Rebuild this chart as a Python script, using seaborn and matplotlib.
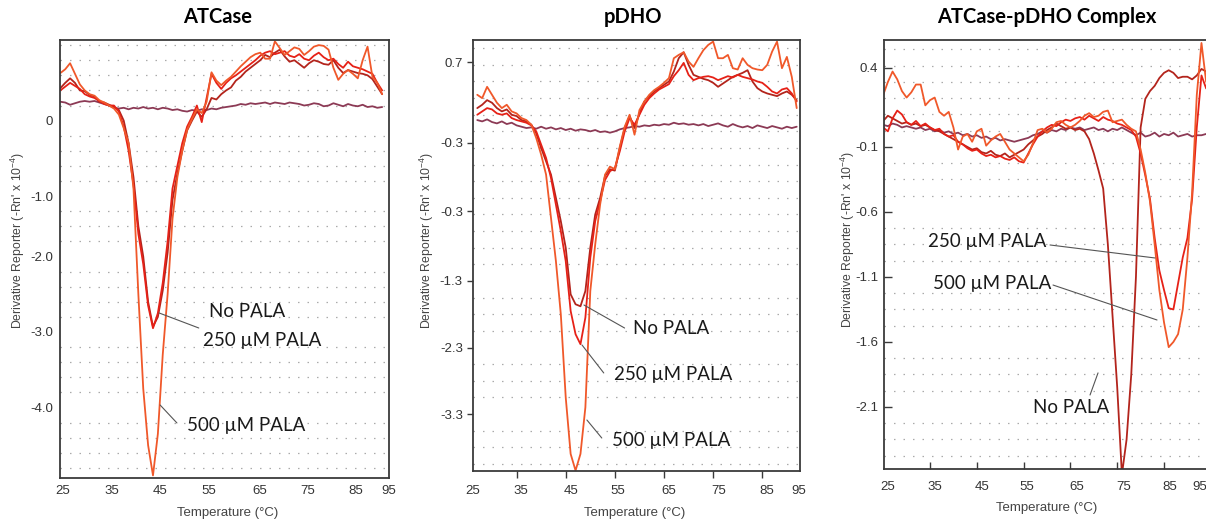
import numpy as np
import pandas as pd
import matplotlib
matplotlib.use("Agg")
import matplotlib.pyplot as plt
from matplotlib.ticker import FixedLocator
import seaborn as sns

# ---------------- data ----------------
series_names = ["Blank", "No PALA", "250 µM PALA", "500 µM PALA"]
line_colors = ["#8c3a55", "#b3241c", "#e62117", "#f0582a"]

# ATCase panel
atc_temp = np.arange(24.5, 91.0, 1.0)
atc_blank = [0.05, 0.04, 0.01, 0.03, 0.05, 0.06, 0.05, 0.06, 0.04, 0.02,
             0.0, -0.03, -0.04, -0.03, -0.05, -0.03, -0.04, -0.02, -0.04, -0.03,
             -0.05, -0.03, -0.04, -0.06, -0.05, -0.07, -0.08, -0.06, -0.07, -0.05,
             -0.06, -0.04, -0.05, -0.03, -0.02, -0.01, 0.0, 0.02, 0.01, 0.03,
             0.02, 0.03, 0.04, 0.02, 0.04, 0.03, 0.02, 0.04, 0.03, 0.02,
             0.0, 0.01, 0.03, 0.02, -0.01, 0.0, 0.03, 0.01, -0.01, 0.02,
             0.0, -0.01, 0.01, -0.02, -0.01, -0.03, -0.02]
atc_nopala = [0.23, 0.30, 0.36, 0.30, 0.20, 0.19, 0.14, 0.12, 0.05, 0.04,
              0.01, -0.02, -0.06, -0.20, -0.50, -0.95, -1.60, -2.00, -2.60, -2.93,
              -2.80, -2.45, -1.95, -1.25, -0.90, -0.60, -0.33, -0.20, -0.08, -0.15,
              -0.05, 0.10, 0.08, 0.15, 0.20, 0.24, 0.33, 0.38, 0.45, 0.50,
              0.55, 0.60, 0.67, 0.64, 0.70, 0.74, 0.65, 0.58, 0.60, 0.55,
              0.50, 0.56, 0.60, 0.58, 0.55, 0.54, 0.60, 0.50, 0.43, 0.47,
              0.45, 0.43, 0.42, 0.40, 0.35, 0.25, 0.15]
atc_p250 = [0.20, 0.25, 0.30, 0.26, 0.22, 0.15, 0.12, 0.10, 0.06, 0.02,
            0.00, 0.00, -0.08, -0.28, -0.60, -1.05, -1.70, -2.10, -2.65, -2.95,
            -2.75, -2.35, -1.80, -1.10, -0.80, -0.50, -0.28, -0.15, 0.00, -0.22,
            0.10, 0.42, 0.30, 0.22, 0.30, 0.36, 0.40, 0.45, 0.50, 0.55,
            0.60, 0.66, 0.70, 0.72, 0.68, 0.70, 0.72, 0.66, 0.64, 0.68,
            0.62, 0.60, 0.66, 0.70, 0.64, 0.60, 0.62, 0.55, 0.50, 0.58,
            0.52, 0.50, 0.48, 0.45, 0.42, 0.30, 0.20]
atc_p500 = [0.43, 0.48, 0.56, 0.42, 0.28, 0.20, 0.15, 0.13, 0.07, 0.04,
            0.00, -0.04, -0.12, -0.30, -0.50, -1.10, -2.50, -3.75, -4.50, -4.90,
            -4.35, -3.30, -2.50, -1.50, -0.95, -0.60, -0.32, -0.18, -0.05, -0.10,
            0.05, 0.44, 0.33, 0.27, 0.33, 0.38, 0.45, 0.52, 0.58, 0.64,
            0.68, 0.70, 0.62, 0.62, 0.85, 0.76, 0.67, 0.72, 0.77, 0.75,
            0.67, 0.72, 0.78, 0.80, 0.79, 0.74, 0.50, 0.34, 0.42, 0.47,
            0.42, 0.36, 0.60, 0.78, 0.38, 0.30, 0.15]

# pDHO panel
dho_temp = np.arange(27.0, 93.0, 1.0)
dho_blank = [1.12, 1.10, 1.13, 1.09, 1.07, 1.10, 1.06, 1.08, 1.04, 1.02,
             1.00, 1.01, 0.99, 1.02, 0.99, 1.01, 0.98, 1.00, 0.97, 0.99,
             0.96, 0.98, 0.97, 0.95, 0.97, 0.94, 0.95, 0.93, 0.95, 0.98,
             1.00, 1.01, 1.03, 1.02, 1.04, 1.03, 1.05, 1.04, 1.06, 1.05,
             1.08, 1.06, 1.07, 1.05, 1.06, 1.04, 1.06, 1.03, 1.05, 1.07,
             1.04, 1.02, 1.06, 1.03, 1.01, 1.03, 1.00, 1.04, 1.02, 1.00,
             1.03, 1.01, 0.99, 1.02, 1.00, 1.02]
dho_nopala = [1.30, 1.35, 1.42, 1.38, 1.30, 1.25, 1.28, 1.20, 1.18, 1.12,
              1.10, 1.05, 0.92, 0.70, 0.50, 0.30, -0.05, -0.40, -0.80, -1.50,
              -1.65, -1.68, -1.45, -0.80, -0.30, -0.05, 0.28, 0.38, 0.36, 0.70,
              1.00, 1.18, 1.00, 1.22, 1.40, 1.48, 1.55, 1.60, 1.65, 1.70,
              1.85, 2.05, 2.14, 1.95, 1.80, 1.77, 1.74, 1.72, 1.68, 1.62,
              1.67, 1.72, 1.77, 1.80, 1.83, 1.87, 1.70, 1.60, 1.55, 1.52,
              1.50, 1.48, 1.52, 1.55, 1.50, 1.42]
dho_p250 = [1.20, 1.25, 1.30, 1.28, 1.22, 1.20, 1.22, 1.15, 1.12, 1.10,
            1.08, 1.04, 0.95, 0.75, 0.55, 0.25, -0.15, -0.55, -1.00, -1.75,
            -2.10, -2.25, -1.85, -0.95, -0.40, -0.10, 0.22, 0.35, 0.40, 0.65,
            0.95, 1.15, 1.05, 1.20, 1.35, 1.45, 1.52, 1.58, 1.62, 1.66,
            1.78, 1.87, 1.98, 1.80, 1.72, 1.75, 1.77, 1.78, 1.76, 1.72,
            1.75, 1.78, 1.76, 1.80, 1.77, 1.75, 1.73, 1.70, 1.68, 1.62,
            1.55, 1.52, 1.58, 1.60, 1.52, 1.40]
dho_p500 = [1.50, 1.45, 1.62, 1.50, 1.38, 1.30, 1.35, 1.25, 1.22, 1.15,
            1.12, 1.05, 0.85, 0.60, 0.30, -0.35, -1.00, -1.80, -3.05, -3.90,
            -4.15, -3.90, -3.20, -1.45, -0.75, -0.15, 0.30, 0.42, 0.38, 0.72,
            1.02, 1.20, 0.90, 1.27, 1.40, 1.50, 1.57, 1.62, 1.68, 1.75,
            2.05, 2.10, 2.14, 2.00, 1.92, 2.05, 2.17, 2.25, 2.30, 2.05,
            2.05, 2.10, 1.90, 1.88, 2.05, 1.95, 1.90, 1.88, 1.87, 1.95,
            2.15, 2.30, 1.90, 2.07, 1.77, 1.30]

# ATCase-pDHO complex panel
cpx_temp = np.arange(25.0, 95.0, 1.0)
cpx_blank = [0.07, 0.06, 0.08, 0.07, 0.05, 0.06, 0.05, 0.04, 0.05, 0.03,
             0.04, 0.02, 0.03, 0.01, 0.02, 0.00, 0.01, -0.01, 0.00, -0.02,
             -0.01, -0.03, -0.02, -0.04, -0.03, -0.05, -0.04, -0.05, -0.06, -0.05,
             -0.04, -0.03, -0.01, 0.00, 0.02, 0.01, 0.03, 0.02, 0.04, 0.03,
             0.05, 0.04, 0.05, 0.03, 0.04, 0.05, 0.03, 0.04, 0.02, 0.04,
             0.03, 0.05, 0.03, 0.01, -0.01, 0.01, -0.02, -0.01, 0.01, -0.02,
             0.00, -0.01, 0.01, -0.02, -0.01, 0.00, -0.02, -0.01, -0.01, 0.00]
cpx_nopala = [0.10, 0.14, 0.12, 0.10, 0.08, 0.09, 0.07, 0.08, 0.06, 0.07,
              0.05, 0.03, 0.02, 0.00, -0.02, -0.04, -0.06, -0.08, -0.10, -0.12,
              -0.11, -0.14, -0.15, -0.13, -0.16, -0.17, -0.15, -0.18, -0.16, -0.14,
              -0.12, -0.08, -0.05, -0.02, 0.00, 0.03, 0.05, 0.08, 0.06, 0.04,
              0.05, 0.03, 0.04, 0.02, -0.04, -0.15, -0.28, -0.42, -0.85, -1.40,
              -1.95, -2.62, -2.35, -1.85, -1.10, 0.05, 0.27, 0.33, 0.37, 0.43,
              0.47, 0.49, 0.47, 0.43, 0.44, 0.44, 0.42, 0.45, 0.50, 0.48]
cpx_p250 = [0.05, 0.02, 0.12, 0.18, 0.15, 0.09, 0.07, 0.10, 0.06, 0.08,
            0.05, 0.03, 0.04, 0.00, -0.02, -0.01, -0.06, -0.08, -0.11, -0.13,
            -0.12, -0.15, -0.17, -0.16, -0.18, -0.17, -0.19, -0.20, -0.18, -0.21,
            -0.22, -0.15, -0.08, -0.02, 0.02, 0.05, 0.07, 0.06, 0.09, 0.11,
            0.10, 0.12, 0.13, 0.11, 0.14, 0.12, 0.10, 0.13, 0.11, 0.10,
            0.08, 0.07, 0.05, 0.03, -0.02, -0.15, -0.32, -0.50, -0.80, -1.05,
            -1.20, -1.34, -1.35, -1.15, -0.95, -0.80, -0.50, 0.05, 0.45, 0.35]
cpx_p500 = [0.30, 0.40, 0.48, 0.42, 0.33, 0.28, 0.32, 0.38, 0.38, 0.22,
            0.26, 0.28, 0.17, 0.14, 0.17, 0.05, -0.12, -0.02, 0.00, -0.06,
            0.02, 0.04, -0.09, -0.05, -0.02, 0.00, -0.06, -0.12, -0.15, -0.18,
            -0.21, -0.16, -0.07, 0.03, 0.04, 0.01, 0.04, 0.09, 0.10, 0.07,
            0.05, 0.07, 0.10, 0.14, 0.16, 0.13, 0.14, 0.17, 0.18, 0.09,
            0.10, 0.11, 0.07, 0.04, 0.02, -0.12, -0.30, -0.52, -0.85, -1.20,
            -1.45, -1.64, -1.60, -1.54, -1.35, -0.95, -0.45, 0.30, 0.70, 0.40]

# tick labels
x_tick_text = ["25", "35", "45", "55", "65", "75", "85", "95"]
atc_y_text = ["0", "-1.0", "-2.0", "-3.0", "-4.0"]
dho_y_text = ["0.7", "-0.3", "-0.3", "-1.3", "-2.3", "-3.3"]
cpx_y_text = ["0.4", "-0.1", "-0.6", "-1.1", "-1.6", "-2.1"]
titles = ["ATCase", "pDHO", "ATCase-pDHO Complex"]

# ---------------- style ----------------
sns.set_style("white")
plt.rcParams['font.family'] = ['Liberation Sans', 'DejaVu Sans']
plt.rcParams['mathtext.fontset'] = 'custom'
plt.rcParams['mathtext.rm'] = 'Liberation Sans'
plt.rcParams['mathtext.it'] = 'Liberation Sans:italic'
plt.rcParams['mathtext.bf'] = 'Liberation Sans:bold'

ANN_FONT = ['Lato', 'Open Sans', 'DejaVu Sans']
TICK_COLOR = '#333333'
SPINE_COLOR = '#3a3a3a'
palette = dict(zip(series_names, line_colors))


def make_frame(temps, blank, nopala, p250, p500):
    frames = []
    for name, vals in zip(series_names, [blank, nopala, p250, p500]):
        frames.append(pd.DataFrame({"Temperature": temps, "Value": vals, "Series": name}))
    return pd.concat(frames, ignore_index=True)


fig = plt.figure(figsize=(12.06, 5.23), dpi=100)

panels = [
    dict(rect=[0.04975, 0.08604, 0.2728, 0.8375],
         df=make_frame(atc_temp, atc_blank, atc_nopala, atc_p250, atc_p500),
         xlim=(24.43, 91.30), ylim=(-4.934, 0.868),
         xlab_pos=[25.04, 35, 44.96, 54.9, 65.3, 75.2, 85.0, 91.9], xmarks=None,
         ytick_pos=[-0.2, -1.2, -2.0, -3.0, -4.0], ytick_text=atc_y_text,
         grid_start=-5.0, grid_step=0.2, ytick_len=0, ytick_dir='out',
         xtick_dir='out', xlab_pad=4.7, ylab_pad=5.0,
         xlabel_xy=(0.5106, -0.0799), ylabel_xy=(-0.1277, 0.543),
         title_x=218,
         ann=[("No PALA", 54.92, -2.80, (44.76, -2.748), (52.89, -2.947)),
              ("250 µM PALA", 53.70, -3.185, None, None),
              ("500 µM PALA", 50.45, -4.311, (44.96, -3.967), (48.41, -4.205))]),
    dict(rect=[0.3922, 0.09943, 0.2711, 0.8241],
         df=make_frame(dho_temp, dho_blank, dho_nopala, dho_p250, dho_p500),
         xlim=(26.73, 92.66), ylim=(-4.157, 2.324),
         xlab_pos=[26.13, 35.81, 46.09, 55.56, 66.05, 76.13, 85.81, 92.46],
         xmarks=[35, 45, 55, 65, 75, 85],
         ytick_pos=[1.99, 0.78, -0.25, -1.3, -2.3, -3.3], ytick_text=dho_y_text,
         grid_start=-4.3, grid_step=0.25, ytick_len=4.3, ytick_dir='out',
         xtick_dir='out', xlab_pad=10.4, ylab_pad=3.0,
         xlabel_xy=(0.4954, -0.0974), ylabel_xy=(-0.1407, 0.536),
         title_x=633,
         ann=[("No PALA", 58.79, -2.097, (48.71, -1.661), (56.98, -2.007)),
              ("250 µM PALA", 54.76, -2.789, (48.31, -2.262), (52.74, -2.683)),
              ("500 µM PALA", 54.35, -3.781, (49.31, -3.39), (52.34, -3.661))]),
    dict(rect=[0.7330, 0.1033, 0.2745, 0.8203],
         df=make_frame(cpx_temp, cpx_blank, cpx_nopala, cpx_p250, cpx_p500),
         xlim=(25.17, 95.9), ylim=(-2.577, 0.723),
         xlab_pos=[26.03, 36.07, 46.1, 55.7, 66.4, 76.45, 86.3, 92.7],
         xmarks=[35, 45, 55, 65, 75, 85],
         ytick_pos=[0.51, -0.1, -0.6, -1.1, -1.6, -2.1], ytick_text=cpx_y_text,
         grid_start=-2.6, grid_step=0.125, ytick_len=6.0, ytick_dir='in',
         xtick_dir='in', xlab_pad=8.3, ylab_pad=4.3,
         xlabel_xy=(0.4924, -0.0909), ylabel_xy=(-0.1088, 0.536),
         title_x=1047,
         ann=[("250 µM PALA", 34.57, -0.869, (60.64, -0.854), (83.08, -0.954)),
              ("500 µM PALA", 35.64, -1.192, (61.28, -1.162), (83.5, -1.431)),
              ("No PALA", 57.0, -2.146, (70.9, -1.838), (69.19, -2.008))]),
]

for i, p in enumerate(panels):
    ax = fig.add_axes(p['rect'])
    sns.lineplot(data=p['df'], x="Temperature", y="Value", hue="Series",
                 hue_order=series_names, palette=palette, estimator=None,
                 linewidth=1.3, legend=False, ax=ax)
    ax.set_xlim(*p['xlim'])
    ax.set_ylim(*p['ylim'])

    # dotted horizontal grid rows
    rows = np.arange(p['grid_start'], p['ylim'][1], p['grid_step'])
    ax.yaxis.set_minor_locator(FixedLocator(rows))
    ax.grid(which='minor', axis='y', linestyle=(0, (1.2, 6.4)), color='#aaaaaa', linewidth=0.9)
    ax.grid(which='major', visible=False)
    ax.set_axisbelow(True)

    # x ticks
    if p['xmarks'] is None:
        ax.set_xticks(p['xlab_pos'], labels=x_tick_text)
        ax.tick_params(axis='x', which='major', length=0, pad=p['xlab_pad'],
                       labelsize=9.5, labelcolor=TICK_COLOR)
    else:
        ax.set_xticks(p['xmarks'], labels=[''] * len(p['xmarks']))
        ax.tick_params(axis='x', which='major', length=5, width=1.0, direction=p['xtick_dir'],
                       color=SPINE_COLOR, bottom=True)
        ax.set_xticks(p['xlab_pos'], labels=x_tick_text, minor=True)
        ax.tick_params(axis='x', which='minor', length=0, pad=p['xlab_pad'],
                       labelsize=9.5, labelcolor=TICK_COLOR)

    # y ticks
    ax.set_yticks(p['ytick_pos'], labels=p['ytick_text'])
    ax.tick_params(axis='y', which='major', length=p['ytick_len'], width=1.0,
                   direction=p['ytick_dir'], color=SPINE_COLOR, left=True,
                   pad=p['ylab_pad'], labelsize=9.5, labelcolor=TICK_COLOR)
    ax.tick_params(axis='y', which='minor', length=0)

    for sp in ax.spines.values():
        sp.set_color(SPINE_COLOR)
        sp.set_linewidth(1.3)

    ax.set_xlabel("Temperature (°C)", fontsize=9.5, color='#444444')
    ax.xaxis.set_label_coords(*p['xlabel_xy'])
    ax.xaxis.label.set_verticalalignment('center')
    ax.set_ylabel("Derivative Reporter (-Rn' x 10$^{-4}$)", fontsize=8.8, color='#444444')
    ax.yaxis.set_label_coords(*p['ylabel_xy'])
    ax.yaxis.label.set_verticalalignment('center')

    for text, tx, ty, start, end in p['ann']:
        ax.text(tx, ty, text, ha='left', va='baseline', fontsize=13.5,
                family=ANN_FONT, color='#1a1a1a')
        if start is not None:
            ax.annotate('', xy=end, xytext=start,
                        arrowprops=dict(arrowstyle='-', color='#555555', lw=0.8,
                                        shrinkA=0, shrinkB=0))

    fig.text(p['title_x'] / 1206, 1 - 23 / 523, titles[i], ha='center', va='baseline',
             fontsize=14.5, fontweight='bold', family=ANN_FONT, color='#000000')

fig.savefig("out.png", dpi=100)
